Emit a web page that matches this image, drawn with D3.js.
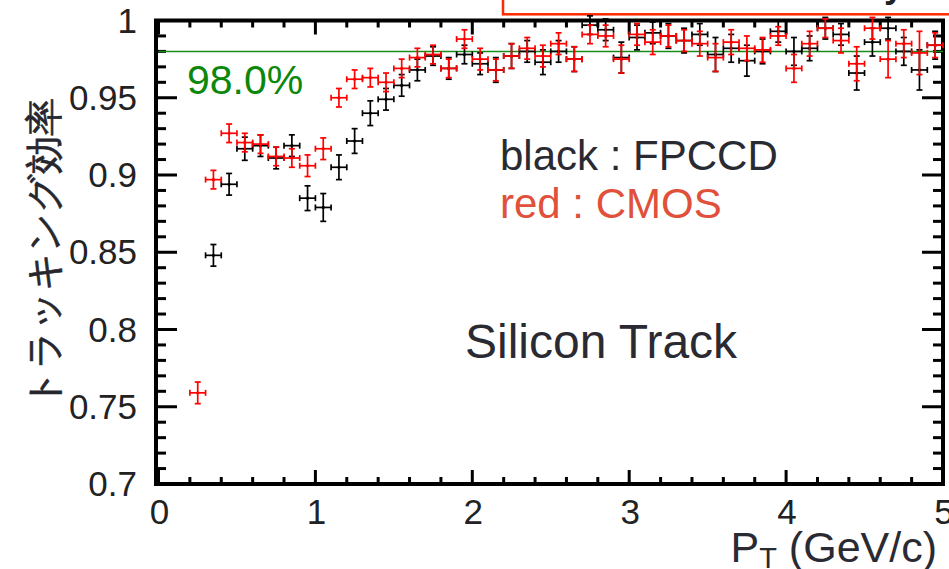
<!DOCTYPE html>
<html><head><meta charset="utf-8">
<script src="https://cdn.jsdelivr.net/npm/d3@7"></script>
<style>
html,body{margin:0;padding:0;background:#fff;overflow:hidden;}
svg{display:block;}
text{font-family:"Liberation Sans",Arial,Helvetica,sans-serif;}
</style></head>
<body>
<svg id="c" width="949" height="569"></svg>
<script>
// ---- data ----
const ptBins = [0.25,0.35,0.45,0.55,0.65,0.75,0.85,0.95,1.05,1.15,1.25,1.35,1.45,1.55,1.65,1.75,1.85,1.95,
  2.05,2.15,2.25,2.35,2.45,2.55,2.65,2.75,2.85,2.95,3.05,3.15,3.25,3.35,3.45,3.55,3.65,3.75,3.85,3.95,
  4.05,4.15,4.25,4.35,4.45,4.55,4.65,4.75,4.85,4.95];
const cmosEff = [0.759,0.897,0.927,0.921,0.920,0.912,0.911,0.906,0.917,0.950,0.962,0.963,0.960,0.969,0.976,0.978,0.969,0.988,
  0.975,0.968,0.977,0.982,0.977,0.985,0.975,0.991,0.990,0.975,0.991,0.986,0.990,0.987,0.985,0.976,0.986,0.982,0.981,0.990,
  0.969,0.985,0.995,0.987,0.972,0.995,0.975,0.985,0.979,0.984];
const cmosErr = [0.007,0.006,0.006,0.006,0.006,0.006,0.006,0.007,0.007,0.006,0.006,0.006,0.006,0.006,0.006,0.006,0.006,0.006,
  0.007,0.007,0.008,0.007,0.007,0.007,0.008,0.006,0.007,0.009,0.007,0.008,0.007,0.007,0.008,0.009,0.008,0.008,0.008,0.006,
  0.009,0.008,0.006,0.008,0.011,0.007,0.012,0.009,0.014,0.008];
const fpccdEff = [null,0.848,0.894,0.917,0.919,0.911,0.919,0.885,0.879,0.905,0.922,0.940,0.949,0.958,0.968,0.977,0.969,0.978,
  0.972,0.968,0.977,0.980,0.973,0.980,0.975,0.997,0.994,0.976,0.989,0.992,0.990,0.987,0.991,0.978,0.982,0.974,0.980,0.993,
  0.980,0.982,0.995,0.991,0.966,0.986,0.995,0.980,0.968,0.984];
const fpccdErr = [null,0.007,0.007,0.0075,0.007,0.007,0.007,0.008,0.009,0.008,0.008,0.008,0.007,0.007,0.007,0.006,0.007,0.006,
  0.007,0.008,0.008,0.007,0.008,0.007,0.008,0.006,0.007,0.010,0.008,0.007,0.008,0.008,0.007,0.011,0.009,0.010,0.008,0.007,
  0.009,0.008,0.007,0.007,0.011,0.009,0.007,0.009,0.013,0.009];
const binHalfWidth = 0.05;
const xTicks = [0,1,2,3,4,5];
const yTickLabels = ["0.7","0.75","0.8","0.85","0.9","0.95","1"];
const refLevel = 0.98;
const refLabel = "98.0%";
const legendLines = ["black : FPCCD","red : CMOS"];
const noteText = "Silicon Track";
const yTitle = "トラッキング効率";

// ---- layout ----
const svg = d3.select("#c");
const x = d3.scaleLinear().domain([0,5]).range([158.5,943]);
const y = d3.scaleLinear().domain([0.7,1]).range([484,20.5]);
const X0 = 156, X1 = 943, Y0 = 20.5, Y1 = 484;

// top overlay box (edge of a slide element)
svg.append("rect").attr("x",503).attr("y",-10).attr("width",470).attr("height",24.3)
  .attr("fill","#fff").attr("stroke","#ff2a00").attr("stroke-width",2.5);
svg.append("text").attr("x",884).attr("y",-3).attr("font-size",36).attr("font-weight","bold")
  .attr("fill","#222").text("y");

// axes (ROOT-style: inward ticks on all four sides)
const ax = svg.append("g");
const xMinor = d3.range(0,5.0001,0.2);
const yMinor = d3.range(0.7,1.0001,0.01);
const isMajorX = v => Math.abs(v - Math.round(v)) < 1e-6;
const isMajorY = v => Math.abs(v*20 - Math.round(v*20)) < 1e-6;
xMinor.forEach(v=>{
  const L = isMajorX(v) ? 14 : 7;
  ax.append("line").attr("x1",x(v)).attr("x2",x(v)).attr("y1",Y1).attr("y2",Y1-L).attr("stroke","#000").attr("stroke-width",3);
  ax.append("line").attr("x1",x(v)).attr("x2",x(v)).attr("y1",Y0).attr("y2",Y0+L).attr("stroke","#000").attr("stroke-width",3);
});
yMinor.forEach(v=>{
  const L = isMajorY(v) ? 21 : 10;
  ax.append("line").attr("x1",X0).attr("x2",X0+L).attr("y1",y(v)).attr("y2",y(v)).attr("stroke","#000").attr("stroke-width",3);
  ax.append("line").attr("x1",X1).attr("x2",X1-L).attr("y1",y(v)).attr("y2",y(v)).attr("stroke","#000").attr("stroke-width",3);
});
ax.append("rect").attr("x",X0).attr("y",Y0).attr("width",X1-X0).attr("height",Y1-Y0)
  .attr("fill","none").attr("stroke","#000").attr("stroke-width",4);

// tick labels
xTicks.forEach(v=>{
  svg.append("text").attr("x",x(v)+1).attr("y",524).attr("text-anchor","middle")
    .attr("font-size",35).attr("fill","#222").text(String(v));
});
yTickLabels.forEach(s=>{
  svg.append("text").attr("x",137).attr("y",y(+s)+12).attr("text-anchor","end")
    .attr("font-size",35).attr("fill","#222").text(s);
});

// axis titles
const xt = svg.append("text").attr("x",937).attr("y",562).attr("text-anchor","end")
  .attr("font-size",43).attr("fill","#2a2a33");
xt.append("tspan").text("P");
xt.append("tspan").attr("font-size",29).attr("dy",6).text("T");
xt.append("tspan").attr("dy",-6).text(" (GeV/c)");

svg.append("text").attr("transform","translate(57,253) rotate(-90)").attr("text-anchor","middle")
  .attr("font-family","'Noto Sans CJK JP','Noto Sans CJK SC',sans-serif")
  .attr("font-size",38).attr("fill","#26262e").attr("stroke","#26262e").attr("stroke-width",0.6)
  .text(yTitle);

// reference line
svg.append("line").attr("x1",x(0)).attr("x2",X1).attr("y1",y(refLevel)).attr("y2",y(refLevel))
  .attr("stroke","#1a8a1a").attr("stroke-width",1.5);
svg.append("text").attr("x",187).attr("y",94).attr("font-size",41).attr("fill","#0b870b").text(refLabel);

// annotations
svg.append("text").attr("x",500).attr("y",170).attr("font-size",42).attr("fill","#2a2a33").text(legendLines[0]);
svg.append("text").attr("x",500).attr("y",218).attr("font-size",42).attr("fill","#e0503a").text(legendLines[1]);
svg.append("text").attr("x",465).attr("y",358).attr("font-size",48).attr("fill","#2a2a33").text(noteText);

// error-bar crosses
function drawSeries(vals, errs, color){
  const g = svg.append("g").attr("stroke",color).attr("stroke-width",1.7).attr("fill",color);
  ptBins.forEach((b,i)=>{
    const v = vals[i]; if (v == null) return;
    const e = errs[i];
    const cx = x(b), cy = y(v), xl = x(b-binHalfWidth), xr = x(b+binHalfWidth), yt = y(v+e), yb = y(v-e);
    const cap = 3;
    g.append("line").attr("x1",xl).attr("x2",xr).attr("y1",cy).attr("y2",cy);
    g.append("line").attr("x1",cx).attr("x2",cx).attr("y1",yt).attr("y2",yb);
    g.append("line").attr("x1",xl).attr("x2",xl).attr("y1",cy-cap).attr("y2",cy+cap);
    g.append("line").attr("x1",xr).attr("x2",xr).attr("y1",cy-cap).attr("y2",cy+cap);
    g.append("line").attr("x1",cx-cap).attr("x2",cx+cap).attr("y1",yt).attr("y2",yt);
    g.append("line").attr("x1",cx-cap).attr("x2",cx+cap).attr("y1",yb).attr("y2",yb);
    g.append("circle").attr("cx",cx).attr("cy",cy).attr("r",1.6).attr("stroke","none");
  });
}
drawSeries(fpccdEff, fpccdErr, "#000");
drawSeries(cmosEff, cmosErr, "#ff0000");
</script>
</body></html>
